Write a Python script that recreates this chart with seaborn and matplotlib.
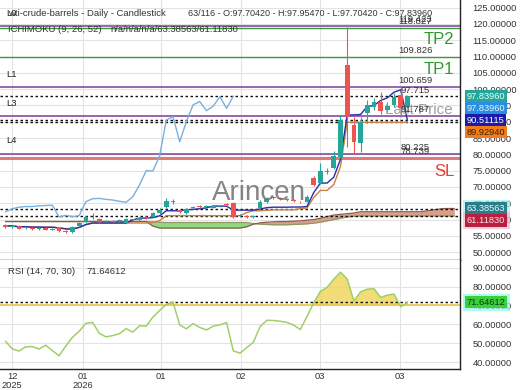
import matplotlib
matplotlib.use('Agg')
import matplotlib.pyplot as plt
import seaborn as sns
import numpy as np
import pandas as pd

# daily candles
opens = [58.3, 57.8, 58.0, 57.3, 57.5, 57.1, 57.4, 56.9, 57.6, 56.6,
         56.1, 58.0, 59.3, 60.7, 60.3, 59.5, 59.6, 59.6, 59.1, 60.1,
         59.9, 60.8, 60.9, 62.1, 63.8, 65.5, 63.0, 62.0, 63.5, 64.3,
         64.0, 63.7, 64.2, 64.8, 65.0, 61.0, 61.2, 60.9, 63.5, 65.5,
         66.8, 66.5, 66.3, 65.9, 65.5, 65.5, 72.8, 71.2, 74.6, 75.8,
         79.3, 107.4, 89.0, 83.4, 92.6, 94.4, 96.2, 93.6, 95.2, 98.2,
         94.6]
highs = [58.6, 58.3, 58.2, 57.8, 57.8, 57.7, 57.6, 57.4, 57.8, 56.9,
         58.0, 59.3, 61.0, 62.0, 60.5, 59.9, 59.8, 60.3, 60.4, 60.3,
         60.9, 61.0, 62.3, 63.4, 66.5, 66.4, 63.3, 63.6, 64.1, 64.5,
         64.6, 64.5, 64.6, 65.1, 65.3, 61.6, 61.5, 61.5, 66.0, 66.8,
         67.1, 66.8, 66.6, 66.2, 65.8, 67.4, 73.3, 77.4, 75.8, 81.0,
         92.0, 119.2, 91.6, 91.5, 96.7, 97.3, 99.2, 96.0, 98.7, 100.3,
         97.95]
lows = [57.5, 57.5, 57.0, 57.1, 56.8, 56.9, 56.7, 56.7, 56.3, 55.9,
        55.9, 57.8, 59.1, 60.2, 59.0, 59.3, 59.2, 59.3, 58.9, 59.6,
        59.7, 60.2, 60.7, 61.8, 63.5, 64.8, 62.1, 61.8, 63.2, 63.7,
        63.6, 63.5, 63.9, 64.1, 60.5, 60.7, 60.6, 60.6, 63.2, 65.1,
        66.2, 65.9, 65.7, 65.3, 65.0, 65.3, 70.2, 70.8, 73.9, 75.5,
        79.0, 82.4, 80.4, 80.8, 89.6, 93.5, 92.5, 93.0, 94.6, 91.6,
        94.3]
closes = [57.8, 58.0, 57.2, 57.5, 57.0, 57.4, 56.9, 57.1, 56.5, 56.2,
          57.8, 58.9, 60.7, 60.8, 59.3, 59.6, 59.4, 59.7, 60.2, 59.9,
          60.6, 60.5, 62.0, 63.0, 65.8, 65.6, 62.4, 63.3, 63.8, 64.0,
          64.0, 64.2, 64.3, 64.4, 60.8, 61.3, 60.9, 61.2, 65.5, 66.4,
          66.5, 66.2, 66.0, 65.6, 65.3, 67.0, 70.6, 75.0, 74.9, 79.5,
          90.5, 91.6, 83.9, 90.0, 95.2, 96.2, 93.4, 94.8, 97.7, 94.1,
          97.84]

# ichimoku cloud (already shifted forward)
span_a = [59.4, 59.4, 59.4, 59.4, 59.4, 59.4, 59.4, 59.4, 59.4, 59.4,
          59.4, 59.4, 59.4, 59.4, 59.4, 59.4, 59.4, 59.4, 59.4, 59.4,
          59.4, 59.4, 59.3, 59.2, 59.1, 59.1, 59.1, 59.1, 59.1, 59.1,
          59.1, 59.1, 59.1, 59.1, 59.1, 59.1, 59.1, 58.8, 58.6, 58.5,
          58.4, 58.4, 58.4, 58.5, 58.6, 58.7, 58.9, 59.2, 59.6, 60.0,
          60.4, 60.8, 61.0, 61.1, 61.1, 61.1, 61.1, 61.1, 61.1, 61.1,
          61.1, 61.1, 61.1, 61.1, 61.1, 61.1, 61.1, 61.1]
span_b = [59.4, 59.4, 59.4, 59.4, 59.4, 59.4, 59.4, 59.4, 59.4, 59.4,
          59.4, 59.4, 59.4, 59.4, 59.4, 59.4, 59.4, 59.4, 59.4, 59.4,
          59.4, 59.4, 58.0, 57.4, 57.4, 57.4, 57.4, 57.4, 57.4, 57.4,
          57.4, 57.4, 57.4, 57.4, 57.4, 57.4, 57.8, 58.6, 59.0, 59.2,
          59.3, 59.4, 59.4, 59.5, 59.6, 59.8, 60.0, 60.4, 60.9, 61.4,
          61.6, 61.8, 62.0, 62.4, 62.4, 62.4, 62.4, 62.4, 62.4, 62.4,
          62.4, 62.4, 62.4, 62.7, 63.0, 63.3, 63.4, 63.4]

rsi = [51.0, 47.0, 45.8, 48.0, 48.2, 46.9, 48.9, 46.0, 43.3, 48.5,
       53.1, 56.3, 60.5, 61.0, 55.2, 53.3, 54.0, 55.0, 57.7, 55.8,
       59.2, 59.0, 63.8, 67.3, 70.5, 71.8, 59.7, 57.6, 60.4, 58.3,
       57.0, 59.0, 59.7, 60.9, 45.9, 44.7, 47.6, 50.5, 58.8, 62.1,
       62.0, 61.6, 61.0, 59.6, 57.2, 64.1, 71.4, 77.4, 79.6, 83.9,
       87.6, 84.0, 72.4, 77.2, 78.6, 78.9, 74.2, 75.5, 76.0, 69.3,
       71.6]

level_names = ['L0', 'L1', 'L3', 'L4']
level_values = [119.423, 100.659, 91.787, 80.225]
tp_names = ['TP2', 'TP1']
tp_values = [118.827, 109.826]
sl_value = 78.739
marker_value = 97.715

last_close = 97.83960
tenkan_last = 90.51115
kijun_last = 89.92940
cloud_top_last = 63.38563
cloud_bot_last = 61.11830
rsi_last = 71.64612

tick_pos = [1, 11.6, 23.2, 35.1, 46.9, 58.9]
tick_labels = ['12\n2025', '01\n2026', '01', '02', '03', '03']

df = pd.DataFrame({'open': opens, 'high': highs, 'low': lows, 'close': closes, 'rsi': rsi})
df['idx'] = np.arange(len(df))
df['tenkan'] = (df['high'].rolling(9, min_periods=1).max() + df['low'].rolling(9, min_periods=1).min()) / 2
df['kijun'] = (df['high'].rolling(26, min_periods=1).max() + df['low'].rolling(26, min_periods=1).min()) / 2
chikou = df[df['idx'] >= 26].assign(idx=lambda d: d['idx'] - 26)
cloud = pd.DataFrame({'idx': np.arange(len(span_a)), 'a': span_a, 'b': span_b})

sns.set_theme(style='whitegrid')
plt.rcParams['font.family'] = ['Liberation Sans', 'DejaVu Sans']
plt.rcParams['grid.color'] = '#e3e3e3'
plt.rcParams['grid.linewidth'] = 0.8

W, H = 520, 390
fig = plt.figure(figsize=(W / 100, H / 100), dpi=100)
fig.patch.set_facecolor('white')
ax = fig.add_axes([0, 1 - 260 / H, 460 / W, 260 / H])
ax2 = fig.add_axes([0, 1 - 369 / H, 460 / W, 109 / H])
xlim = (-0.82, 67.84)

# ---- main panel ----
ax.set_xlim(*xlim)
ax.set_ylim(47.6, 127.36)

ax.fill_between(cloud['idx'], cloud['a'], cloud['b'], where=cloud['a'] >= cloud['b'],
                interpolate=True, color='#86d474', alpha=0.9, lw=0, zorder=1)
ax.fill_between(cloud['idx'], cloud['a'], cloud['b'], where=cloud['a'] < cloud['b'],
                interpolate=True, color='#d4967f', alpha=0.9, lw=0, zorder=1)
sns.lineplot(data=cloud, x='idx', y='a', ax=ax, color='#8f9a62', lw=0.9, zorder=2)
sns.lineplot(data=cloud, x='idx', y='b', ax=ax, color='#8a5a4c', lw=0.9, zorder=2)

for name, val in zip(level_names, level_values):
    ax.axhline(val, color='#7d3c98', lw=1.1, zorder=2)
    ax.annotate(name, xy=(0.013, val), xycoords=('axes fraction', 'data'), xytext=(0, 6),
                textcoords='offset points', fontsize=6.8, color='#222', va='bottom')
for name, val in zip(tp_names, tp_values):
    ax.axhline(val, color='#3a9a3a', lw=1.0, zorder=2)
ax.axhline(sl_value, color='#e07a7a', lw=2.2, zorder=2)
for val in [last_close, tenkan_last, kijun_last, cloud_top_last, cloud_bot_last]:
    ax.axhline(val, color='#111', lw=1.0, ls=(0, (1.8, 1.8)), zorder=2)

for val in level_values + tp_values + [sl_value, marker_value]:
    ax.annotate(f'{val:.3f}', xy=(61.2, val), xytext=(0, 1.5), textcoords='offset points',
                fontsize=6.8, color='#333', ha='center', va='bottom', zorder=6)

ax.text(439 / 460, 1 - 40 / 260, 'TP2', transform=ax.transAxes, fontsize=12,
        color='#2e9a2e', ha='center', va='center')
ax.text(439 / 460, 1 - 69 / 260, 'TP1', transform=ax.transAxes, fontsize=12,
        color='#2e9a2e', ha='center', va='center')
ax.text(444 / 460, 1 - 172 / 260, 'SL', transform=ax.transAxes, fontsize=12,
        color='#e53935', ha='center', va='center')
ax.text(453 / 460, 1 - 110 / 260, 'Last Price', transform=ax.transAxes, fontsize=11,
        color='#a0a0a0', ha='right', va='center', zorder=5)
ax.text(259 / 460, 1 - 193 / 260, 'Arincen', transform=ax.transAxes, fontsize=20,
        color='#707070', alpha=0.85, ha='center', va='center', zorder=7)

sns.lineplot(data=chikou, x='idx', y='close', ax=ax, color='#78b0df', lw=1.0, zorder=3)
sns.lineplot(data=df, x='idx', y='kijun', ax=ax, color='#c98042', lw=1.0, zorder=3)
sns.lineplot(data=df, x='idx', y='tenkan', ax=ax, color='#2b2ba6', lw=1.0, zorder=3)

up = df['close'] >= df['open']
colors = np.where(up, '#26a69a', '#ef5350')
ax.vlines(df['idx'], df['low'], df['high'], colors=colors, lw=0.8, zorder=4)
body = np.maximum((df['close'] - df['open']).abs(), 0.2)
ax.bar(df['idx'], body, bottom=np.minimum(df['open'], df['close']), width=0.7,
       color=colors, lw=0, zorder=5)

ax.set_xticks(tick_pos)
ax.set_xticklabels([])
ax.set_yticks(np.arange(50, 126, 5))
ax.yaxis.tick_right()
ax.yaxis.set_major_formatter(matplotlib.ticker.FormatStrFormatter('%.5f'))
ax.tick_params(axis='y', length=0, pad=9, labelsize=6.7, labelcolor='#333')
ax.tick_params(axis='x', length=0)
ax.set_xlabel('')
ax.set_ylabel('')
for side in ['top', 'left']:
    ax.spines[side].set_visible(False)
for side in ['bottom', 'right']:
    ax.spines[side].set_visible(True)
    ax.spines[side].set_color('#222')
    ax.spines[side].set_linewidth(1.0)

# ---- RSI panel ----
ax2.set_xlim(*xlim)
ax2.set_ylim(36.29, 94.08)
ax2.fill_between(df['idx'], df['rsi'], 70, where=df['rsi'] > 70, interpolate=True,
                 color='#f0d660', alpha=0.85, lw=0, zorder=1)
ax2.axhline(70, color='#e8c84a', lw=1.2, zorder=2)
ax2.axhline(rsi_last, color='#111', lw=1.0, ls=(0, (1.8, 1.8)), zorder=2)
sns.lineplot(data=df, x='idx', y='rsi', ax=ax2, color='#a0cf6a', lw=1.1, zorder=3)
ax2.set_xticks(tick_pos)
ax2.set_xticklabels(tick_labels)
ax2.set_yticks(np.arange(40, 91, 10))
ax2.yaxis.tick_right()
ax2.yaxis.set_major_formatter(matplotlib.ticker.FormatStrFormatter('%.5f'))
ax2.tick_params(axis='y', length=0, pad=9, labelsize=6.7, labelcolor='#333')
ax2.tick_params(axis='x', length=0, pad=2, labelsize=6.7, labelcolor='#333')
ax2.set_xlabel('')
ax2.set_ylabel('')
for label in ax2.get_xticklabels():
    label.set_linespacing(1.0)
for side in ['top', 'left']:
    ax2.spines[side].set_visible(False)
for side in ['bottom', 'right']:
    ax2.spines[side].set_visible(True)
    ax2.spines[side].set_color('#222')
    ax2.spines[side].set_linewidth(1.0)


def value_boxes(axis, items):
    prev = None
    for val, face, tcol, halo in items:
        y = axis.transData.transform((0, val))[1]
        if prev is not None and prev - y < 12:
            y = prev - 12
        prev = y
        if halo:
            axis.annotate(f'{val:.5f}', xy=(1, y), xycoords=('axes fraction', 'figure pixels'),
                          xytext=(5, 0), textcoords='offset points', fontsize=6.7, color='none',
                          va='center', annotation_clip=False, zorder=8,
                          bbox=dict(boxstyle='square,pad=0.45', fc=halo, ec='none', alpha=0.7))
        axis.annotate(f'{val:.5f}', xy=(1, y), xycoords=('axes fraction', 'figure pixels'),
                      xytext=(5, 0), textcoords='offset points', fontsize=6.7, color=tcol,
                      va='center', annotation_clip=False, zorder=9,
                      bbox=dict(boxstyle='square,pad=0.18', fc=face, ec='none'))


value_boxes(ax, [(last_close, '#26a69a', '#e8fff8', None),
                 (last_close, '#2a8fe0', '#e8f4ff', None),
                 (tenkan_last, '#1c1ca8', 'white', None),
                 (kijun_last, '#f07c1a', '#402000', None)])
value_boxes(ax, [(cloud_top_last, '#2c7d87', '#e0fbff', '#9ff3f0'),
                 (cloud_bot_last, '#b8203f', '#ffe0e8', '#f7b6d0')])
value_boxes(ax2, [(rsi_last, '#3ccf3c', '#0b3a0b', '#8ff7e6')])

fig.text(8 / W, 1 - 13 / H, 'wti-crude-barrels - Daily - Candlestick', fontsize=6.8,
         color='#333', va='center')
fig.text(188 / W, 1 - 13 / H, '63/116 - O:97.70420 - H:97.95470 - L:97.70420 - C:97.83960',
         fontsize=6.5, color='#333', va='center')
fig.text(8 / W, 1 - 29 / H, 'ICHIMOKU (9, 26, 52)', fontsize=6.8, color='#333', va='center')
fig.text(110 / W, 1 - 29 / H, 'n/a/n/a/n/a/63.38563/61.11830', fontsize=6.8,
         color='#333', va='center')
fig.text(8 / W, 1 - 272 / H, 'RSI (14, 70, 30)', fontsize=6.8, color='#333', va='center')
fig.text(86 / W, 1 - 272 / H, '71.64612', fontsize=6.8, color='#333', va='center')

fig.savefig('out.png', dpi=100)
